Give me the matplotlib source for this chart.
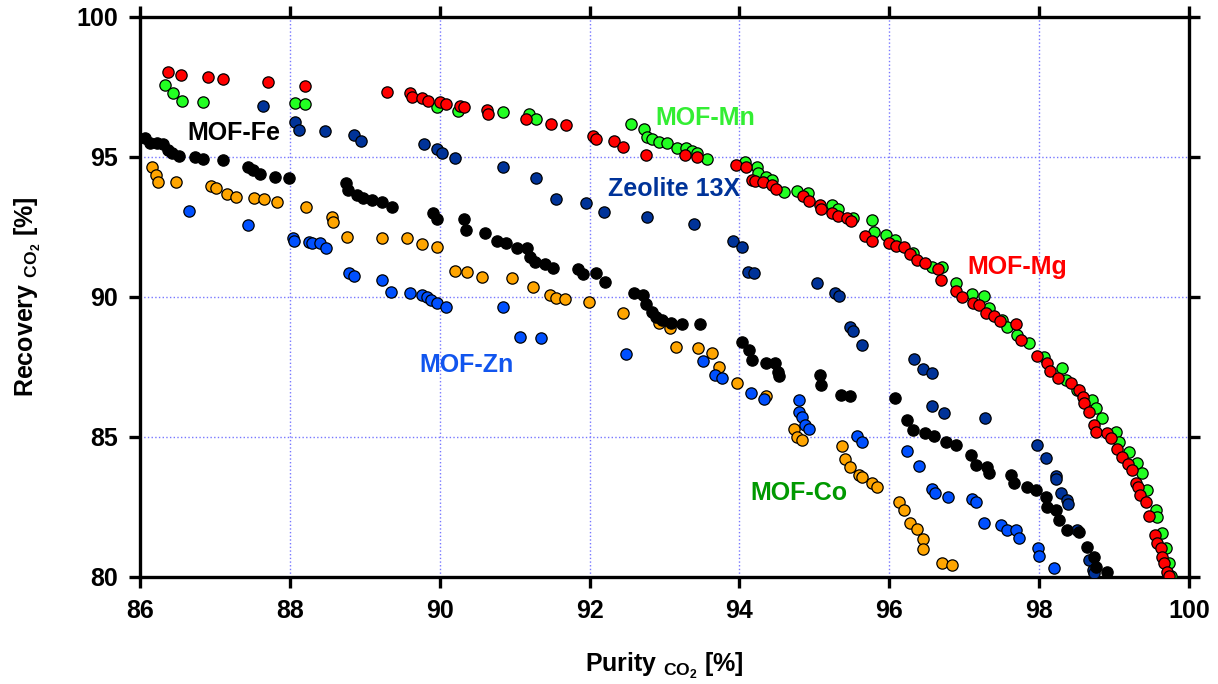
import matplotlib
matplotlib.use("Agg")
import matplotlib.pyplot as plt

plt.rcParams['font.family'] = ['Liberation Sans', 'DejaVu Sans']
plt.rcParams['mathtext.fontset'] = 'custom'
plt.rcParams['mathtext.rm'] = 'Liberation Sans'
plt.rcParams['mathtext.bf'] = 'Liberation Sans:bold'
plt.rcParams['mathtext.it'] = 'Liberation Sans:italic'

# MOF-Fe (black)
fe_x = [86.07, 86.13, 86.23, 86.31, 86.37, 86.43, 86.52, 86.73, 86.84, 87.11, 87.44, 87.51, 87.6, 87.8, 87.99,
        88.75, 88.77, 88.89, 88.97, 89.09, 89.23, 89.36, 89.91, 89.96, 90.32, 90.35, 90.6, 90.76, 90.88, 91.03,
        91.17, 91.2, 91.27, 91.4, 91.51, 91.84, 91.91, 92.09, 92.2, 92.59, 92.71, 92.75, 92.83, 92.89, 92.97,
        93.09, 93.24, 93.47, 94.03, 94.13, 94.17, 94.36, 94.47, 94.51, 94.53, 95.07, 95.09, 95.36, 95.47, 96.07,
        96.24, 96.31, 96.47, 96.6, 96.76, 96.89, 97.09, 97.16, 97.31, 97.33, 97.63, 97.67, 97.84, 97.96, 98.09,
        98.11, 98.23, 98.27, 98.37, 98.53, 98.64, 98.73, 98.76, 98.91]
fe_y = [95.68, 95.5, 95.5, 95.46, 95.25, 95.14, 95.04, 95.0, 94.93, 94.89, 94.64, 94.54, 94.39, 94.29, 94.25,
        94.07, 93.82, 93.64, 93.54, 93.46, 93.39, 93.21, 93.0, 92.79, 92.79, 92.39, 92.29, 92.0, 91.93, 91.75,
        91.75, 91.43, 91.25, 91.18, 91.04, 91.0, 90.82, 90.86, 90.54, 90.14, 90.07, 89.75, 89.46, 89.29, 89.18,
        89.07, 89.04, 89.04, 88.39, 88.11, 87.75, 87.64, 87.64, 87.32, 87.18, 87.21, 86.86, 86.5, 86.46, 86.39,
        85.61, 85.25, 85.14, 85.04, 84.82, 84.71, 84.36, 84.0, 83.93, 83.71, 83.64, 83.36, 83.21, 83.11, 82.86,
        82.5, 82.39, 82.04, 81.68, 81.61, 81.07, 80.71, 80.36, 80.18]

# MOF-Co (orange)
co_x = [86.16, 86.21, 86.24, 86.48, 86.95, 87.01, 87.16, 87.28, 87.52, 87.65, 87.83, 88.21, 88.56, 88.57, 88.76,
        89.23, 89.56, 89.76, 89.97, 90.2, 90.36, 90.56, 90.97, 91.24, 91.47, 91.55, 91.67, 91.99, 92.44, 92.92,
        93.07, 93.16, 93.45, 93.64, 93.73, 93.97, 94.36, 94.73, 94.77, 94.84, 95.37, 95.41, 95.48, 95.6, 95.64,
        95.77, 95.83, 96.13, 96.19, 96.27, 96.37, 96.45, 96.45, 96.71, 96.84]
co_y = [94.64, 94.36, 94.11, 94.11, 93.96, 93.89, 93.68, 93.57, 93.54, 93.5, 93.39, 93.21, 92.86, 92.68, 92.14,
        92.11, 92.11, 91.89, 91.79, 90.93, 90.89, 90.71, 90.68, 90.36, 90.07, 89.96, 89.93, 89.82, 89.43, 89.07,
        88.89, 88.21, 88.18, 88.0, 87.5, 86.93, 86.46, 85.29, 85.0, 84.89, 84.68, 84.21, 83.93, 83.64, 83.57,
        83.36, 83.21, 82.68, 82.39, 81.93, 81.71, 81.36, 81.0, 80.5, 80.43]

# MOF-Zn (blue)
zn_x = [86.65, 87.44, 88.04, 88.05, 88.25, 88.29, 88.4, 88.48, 88.79, 88.85, 89.23, 89.35, 89.61, 89.77, 89.83,
        89.89, 89.96, 90.09, 90.84, 91.07, 91.35, 92.48, 93.51, 93.67, 93.77, 94.15, 94.33, 94.8, 94.8, 94.83,
        94.87, 94.93, 95.57, 95.64, 96.23, 96.39, 96.57, 96.61, 96.79, 97.11, 97.16, 97.27, 97.49, 97.57, 97.69,
        97.73, 97.99, 98.0, 98.2]
zn_y = [93.07, 92.57, 92.11, 92.0, 91.96, 91.93, 91.93, 91.75, 90.86, 90.75, 90.61, 90.18, 90.14, 90.07, 90.0,
        89.89, 89.79, 89.64, 89.64, 88.57, 88.54, 87.96, 87.71, 87.21, 87.11, 86.57, 86.36, 86.32, 85.89, 85.71,
        85.43, 85.29, 85.04, 84.82, 84.5, 83.96, 83.14, 83.0, 82.86, 82.79, 82.68, 81.93, 81.86, 81.68, 81.68,
        81.39, 81.04, 80.75, 80.32]

# Zeolite 13X (navy)
ze_x = [87.64, 88.07, 88.12, 88.47, 88.85, 88.95, 89.79, 89.96, 90.03, 90.21, 90.84, 91.28, 91.55, 91.95, 92.19,
        92.77, 93.4, 93.91, 94.04, 94.12, 94.2, 95.04, 95.27, 95.33, 95.47, 95.51, 95.64, 96.33, 96.45, 96.57,
        96.57, 96.73, 97.28, 97.97, 98.09, 98.23, 98.23, 98.29, 98.37, 98.39, 98.51, 98.67, 98.72, 98.73]
ze_y = [96.82, 96.25, 95.96, 95.93, 95.79, 95.57, 95.46, 95.29, 95.14, 94.96, 94.64, 94.25, 93.5, 93.36, 93.04,
        92.86, 92.61, 92.0, 91.79, 90.89, 90.86, 90.5, 90.14, 90.04, 88.93, 88.79, 88.29, 87.79, 87.43, 87.29,
        86.11, 85.86, 85.68, 84.71, 84.25, 83.61, 83.5, 83.0, 82.75, 82.61, 81.68, 80.61, 80.25, 80.14]

# MOF-Mn (green)
mn_x = [86.33, 86.44, 86.56, 86.84, 88.07, 88.2, 89.96, 90.24, 90.85, 91.19, 91.29, 92.55, 92.72, 92.76, 92.83,
        92.92, 93.04, 93.17, 93.29, 93.37, 93.44, 93.57, 94.08, 94.23, 94.25, 94.36, 94.43, 94.6, 94.77, 94.92,
        95.24, 95.31, 95.51, 95.77, 95.8, 95.96, 96.07, 96.31, 96.57, 96.71, 96.89, 97.11, 97.27, 97.33, 97.51,
        97.57, 97.71, 97.87, 98.07, 98.31, 98.36, 98.51, 98.71, 98.76, 98.84, 99.03, 99.07, 99.2, 99.31, 99.37,
        99.44, 99.56, 99.57, 99.64, 99.69, 99.73, 99.76]
mn_y = [97.57, 97.29, 97.0, 96.96, 96.93, 96.89, 96.79, 96.64, 96.61, 96.54, 96.36, 96.18, 96.0, 95.71, 95.64,
        95.54, 95.5, 95.32, 95.32, 95.21, 95.14, 94.93, 94.82, 94.64, 94.43, 94.29, 94.18, 93.75, 93.79, 93.71,
        93.29, 93.14, 92.82, 92.75, 92.32, 92.21, 92.04, 91.57, 91.07, 91.07, 90.5, 90.11, 90.04, 89.61, 89.18,
        88.93, 88.64, 88.36, 87.86, 87.46, 87.04, 86.68, 86.32, 86.04, 85.68, 85.18, 84.82, 84.46, 84.07, 83.71,
        83.11, 82.39, 82.14, 81.57, 81.04, 80.5, 80.04]

# MOF-Mg (red)
mg_x = [86.37, 86.55, 86.91, 87.11, 87.71, 88.2, 89.29, 89.6, 89.63, 89.77, 89.84, 90.0, 90.08, 90.27, 90.33,
        90.63, 90.64, 91.15, 91.48, 91.69, 92.04, 92.08, 92.33, 92.45, 92.75, 93.28, 93.44, 93.95, 94.09, 94.17,
        94.21, 94.31, 94.43, 94.49, 94.85, 94.93, 95.07, 95.09, 95.23, 95.31, 95.43, 95.49, 95.67, 95.77, 96.0,
        96.09, 96.2, 96.27, 96.37, 96.47, 96.65, 96.69, 96.89, 96.97, 97.12, 97.2, 97.29, 97.4, 97.48, 97.69,
        97.76, 97.97, 98.11, 98.15, 98.25, 98.43, 98.53, 98.59, 98.6, 98.67, 98.73, 98.76, 98.91, 98.96, 99.04,
        99.11, 99.19, 99.24, 99.29, 99.32, 99.35, 99.43, 99.47, 99.55, 99.57, 99.63, 99.64, 99.67, 99.71, 99.73]
mg_y = [98.04, 97.93, 97.86, 97.79, 97.68, 97.54, 97.32, 97.29, 97.14, 97.11, 97.0, 96.96, 96.89, 96.82, 96.79,
        96.68, 96.54, 96.36, 96.18, 96.14, 95.75, 95.64, 95.57, 95.36, 95.07, 95.07, 95.0, 94.71, 94.64, 94.18,
        94.14, 94.11, 94.0, 93.86, 93.61, 93.43, 93.29, 93.14, 93.0, 92.89, 92.82, 92.71, 92.18, 92.0, 91.93,
        91.82, 91.79, 91.54, 91.32, 91.21, 91.0, 90.61, 90.21, 90.0, 89.79, 89.71, 89.43, 89.32, 89.14, 89.04,
        88.46, 87.89, 87.64, 87.36, 87.11, 86.93, 86.68, 86.43, 86.21, 85.89, 85.43, 85.18, 85.14, 84.96, 84.57,
        84.29, 84.04, 83.82, 83.36, 83.21, 82.93, 82.68, 82.18, 81.5, 81.21, 81.04, 80.71, 80.5, 80.18, 80.04]

x_ticks = [86, 88, 90, 92, 94, 96, 98, 100]
y_ticks = [80, 85, 90, 95, 100]

fig = plt.figure(figsize=(12.18, 6.84), dpi=100)
ax = fig.add_axes([140/1218, 1 - 577/684, (1189-140)/1218, (577-17)/684])

ms = 66
ew = 0.9
ax.scatter(co_x, co_y, s=ms, c='#FFA500', edgecolors='black', linewidths=ew, zorder=3)
ax.scatter(zn_x, zn_y, s=ms, c='#0050FF', edgecolors='black', linewidths=ew, zorder=3)
ax.scatter(ze_x, ze_y, s=ms, c='#003399', edgecolors='black', linewidths=ew, zorder=3)
ax.scatter(fe_x, fe_y, s=ms, c='black', edgecolors='black', linewidths=ew, zorder=3)
ax.scatter(mn_x, mn_y, s=ms, c='#22FF22', edgecolors='black', linewidths=ew, zorder=3)
ax.scatter(mg_x, mg_y, s=ms, c='#FF0000', edgecolors='black', linewidths=ew, zorder=3)

lab_kw = dict(fontsize=18, fontweight='bold', ha='center', va='center', zorder=4)
ax.text(87.25, 95.86, 'MOF-Fe', color='black', **lab_kw)
ax.text(93.55, 96.39, 'MOF-Mn', color='#33EE33', **lab_kw)
ax.text(93.13, 93.86, 'Zeolite 13X', color='#003399', **lab_kw)
ax.text(97.71, 91.07, 'MOF-Mg', color='#FF0000', **lab_kw)
ax.text(90.36, 87.57, 'MOF-Zn', color='#1155EE', **lab_kw)
ax.text(94.8, 83.0, 'MOF-Co', color='#009900', **lab_kw)

ax.set_xlim(86, 100)
ax.set_ylim(80, 100)
ax.set_xticks(x_ticks)
ax.set_yticks(y_ticks)
ax.grid(True, linestyle=':', color='#7777FF', linewidth=1.0, zorder=0)
ax.set_axisbelow(True)

for sp in ax.spines.values():
    sp.set_linewidth(2.4)
ax.tick_params(direction='out', length=8, width=2.4, labelsize=18,
               top=True, right=True, labeltop=False, labelright=False, pad=8)
for lbl in ax.get_xticklabels() + ax.get_yticklabels():
    lbl.set_fontweight('bold')

ax.set_xlabel(r'Purity $_{\mathbf{CO_2}}$ [%]', fontsize=18, fontweight='bold', labelpad=20)
ax.set_ylabel(r'Recovery $_{\mathbf{CO_2}}$ [%]', fontsize=18, fontweight='bold', labelpad=24)

fig.savefig('out.png', dpi=100)
